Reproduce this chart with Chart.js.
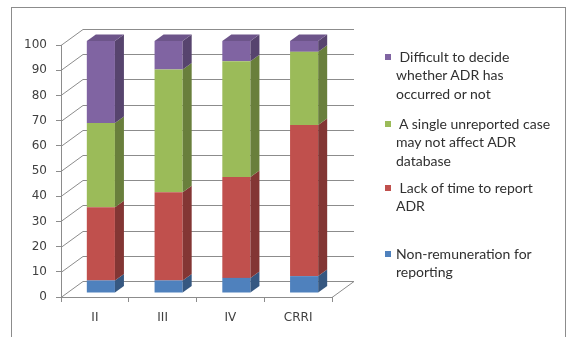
<!DOCTYPE html>
<html>
<head>
<meta charset="utf-8">
<script src="https://cdn.jsdelivr.net/npm/chart.js@4.4.0/dist/chart.umd.min.js"></script>
<style>
  body { margin: 0; background: #fff; font-family: Lato, sans-serif; }
  #wrap { position: relative; width: 575px; height: 337px; overflow: hidden; }
  #frame { position: absolute; left: 11px; top: 7px; width: 553px; height: 340px; border: 1px solid #8c8c8c; }
  #chart { position: absolute; left: 0; top: 0; }
  .item { position: absolute; left: 385px; font-size: 14px; line-height: 18.4px; color: #303030; }
  .item .box { position: absolute; left: 0; top: 6px; width: 6px; height: 6px; }
  .item .txt { position: absolute; left: 11px; white-space: pre; }
</style>
</head>
<body>
<div id="wrap">
  <div id="frame"></div>
  <canvas id="chart" width="575" height="337"></canvas>
  <div id="legend"></div>
</div>
<script>
// data (percent of respondents)
const categories = ['II', 'III', 'IV', 'CRRI'];
const nonRemuneration = [5, 5, 6, 6.7];
const lackOfTime = [29, 35, 40, 60];
const singleCase = [33.5, 48.7, 46, 29];
const difficultDecide = [32.5, 11.3, 8, 4.3];

const seriesNames = [
  ['Non-remuneration for', 'reporting'],
  [' Lack of time to report', 'ADR'],
  [' A single unreported case', 'may not affect ADR', 'database'],
  [' Difficult to decide', 'whether ADR has', 'occurred or not']
];
const frontColors = ['#4F81BD', '#C0504D', '#9BBB59', '#8064A2'];
const sideColors = ['#365881', '#833634', '#697F3C', '#57446E'];
const topColors = ['#44709F', '#A84643', '#87A44D', '#6D558A'];
// legend block tops (Excel spreads them unevenly)
const legendTops = [245, 179, 115, 48];

const gridColor = '#8c8c8c';
const depthX = 22, depthY = 16;    // back wall offset
const shiftX = 6, shiftY = 4;      // bars sit a bit behind the front plane
const sideX = 9, sideY = 6.5;      // bar depth

const threeD = {
  id: 'threeD',
  beforeDatasetsDraw(chart) {
    const { ctx, chartArea, scales: { y } } = chart;
    ctx.save();
    ctx.strokeStyle = gridColor;
    ctx.lineWidth = 1;
    y.ticks.forEach(t => {
      const py = Math.round(y.getPixelForValue(t.value)) + 0.5;
      ctx.beginPath();
      ctx.moveTo(chartArea.left, py);
      ctx.lineTo(chartArea.left + depthX, py - depthY);
      ctx.lineTo(chartArea.right + depthX, py - depthY);
      ctx.stroke();
    });
    const fb = Math.round(chartArea.bottom) + 0.5;
    ctx.beginPath();
    ctx.moveTo(chartArea.right, fb);
    ctx.lineTo(chartArea.right + depthX, fb - depthY);
    ctx.stroke();
    ctx.restore();
    ctx.save();
    ctx.translate(shiftX, -shiftY);
  },
  afterDatasetsDraw(chart) {
    const ctx = chart.ctx;
    const last = chart.data.datasets.length - 1;
    chart.data.datasets.forEach((ds, i) => {
      chart.getDatasetMeta(i).data.forEach(bar => {
        const { x, y, base, width } = bar.getProps(['x', 'y', 'base', 'width'], true);
        const l = x - width / 2, r = x + width / 2;
        ctx.fillStyle = sideColors[i];
        ctx.beginPath();
        ctx.moveTo(r, y);
        ctx.lineTo(r + sideX, y - sideY);
        ctx.lineTo(r + sideX, base - sideY);
        ctx.lineTo(r, base);
        ctx.closePath();
        ctx.fill();
        if (i === last) {
          ctx.fillStyle = topColors[i];
          ctx.beginPath();
          ctx.moveTo(l, y);
          ctx.lineTo(l + sideX, y - sideY);
          ctx.lineTo(r + sideX, y - sideY);
          ctx.lineTo(r, y);
          ctx.closePath();
          ctx.fill();
        }
      });
    });
    ctx.restore();
  }
};

const values = [nonRemuneration, lackOfTime, singleCase, difficultDecide];
const font = { family: 'DejaVu Sans', size: 12 };

new Chart(document.getElementById('chart'), {
  type: 'bar',
  data: {
    labels: categories,
    datasets: values.map((v, i) => ({
      label: seriesNames[i].join(' ').trim(),
      data: v,
      backgroundColor: frontColors[i],
      borderWidth: 0,
      categoryPercentage: 1,
      barPercentage: 0.415,
      clip: false
    }))
  },
  options: {
    responsive: false,
    animation: false,
    devicePixelRatio: 1,
    layout: { padding: { top: 45, right: 243, left: 0, bottom: 0 } },
    plugins: { legend: { display: false }, tooltip: { enabled: false } },
    scales: {
      x: {
        stacked: true,
        grid: { offset: true, drawOnChartArea: false, tickLength: 5, color: gridColor },
        border: { color: gridColor },
        ticks: { color: '#404040', font: font, padding: 9 },
        afterFit(s) { s.height = 40; }
      },
      y: {
        stacked: true,
        min: 0,
        max: 100,
        grid: { drawOnChartArea: false, tickLength: 5, color: gridColor },
        border: { color: gridColor },
        ticks: { stepSize: 10, color: '#404040', font: font, padding: 9 },
        afterFit(s) { s.width = 61; }
      }
    }
  },
  plugins: [threeD]
});

// legend, top entry is the last series
const legend = document.getElementById('legend');
seriesNames.forEach((lines, i) => {
  const item = document.createElement('div');
  item.className = 'item';
  item.style.top = legendTops[i] + 'px';
  const box = document.createElement('div');
  box.className = 'box';
  box.style.background = frontColors[i];
  const txt = document.createElement('div');
  txt.className = 'txt';
  txt.textContent = lines.join('\n');
  item.appendChild(box);
  item.appendChild(txt);
  legend.appendChild(item);
});
</script>
</body>
</html>
